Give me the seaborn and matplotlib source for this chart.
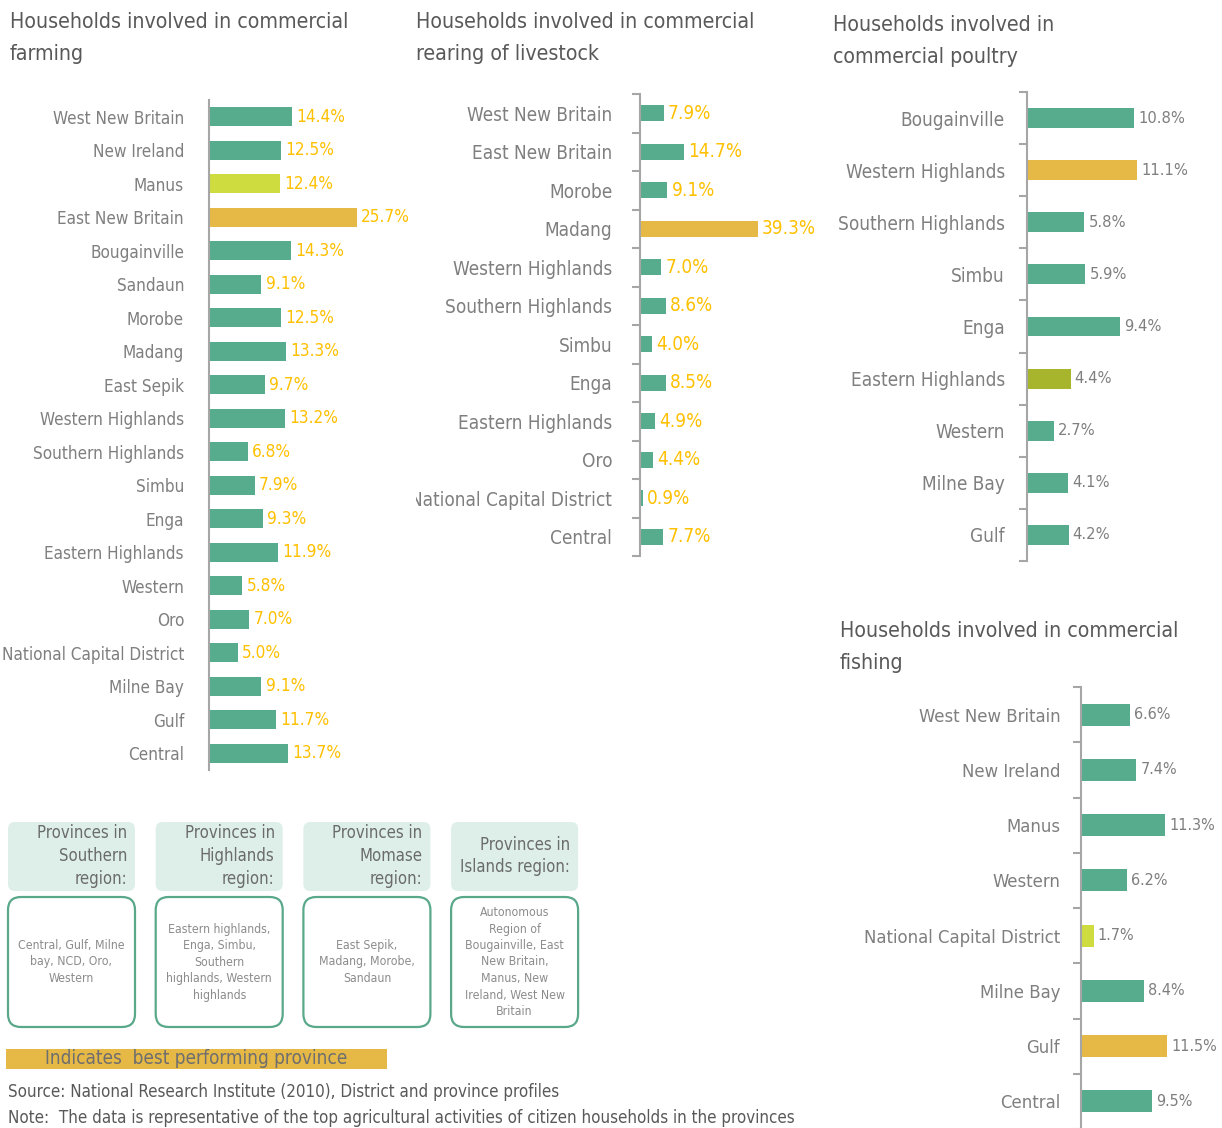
import matplotlib.pyplot as plt
import matplotlib.font_manager as fm
import seaborn as sns
from matplotlib.patches import FancyBboxPatch, Rectangle
from matplotlib.ticker import FixedLocator
from matplotlib.transforms import Bbox

# Data
farm_cats = ["West New Britain", "New Ireland", "Manus", "East New Britain", "Bougainville",
             "Sandaun", "Morobe", "Madang", "East Sepik", "Western Highlands",
             "Southern Highlands", "Simbu", "Enga", "Eastern Highlands", "Western", "Oro",
             "National Capital District", "Milne Bay", "Gulf", "Central"]
farm_vals = [14.4, 12.5, 12.4, 25.7, 14.3, 9.1, 12.5, 13.3, 9.7, 13.2,
             6.8, 7.9, 9.3, 11.9, 5.8, 7.0, 5.0, 9.1, 11.7, 13.7]

stock_cats = ["West New Britain", "East New Britain", "Morobe", "Madang", "Western Highlands",
              "Southern Highlands", "Simbu", "Enga", "Eastern Highlands", "Oro",
              "National Capital District", "Central"]
stock_vals = [7.9, 14.7, 9.1, 39.3, 7.0, 8.6, 4.0, 8.5, 4.9, 4.4, 0.9, 7.7]

poultry_cats = ["Bougainville", "Western Highlands", "Southern Highlands", "Simbu", "Enga",
                "Eastern Highlands", "Western", "Milne Bay", "Gulf"]
poultry_vals = [10.8, 11.1, 5.8, 5.9, 9.4, 4.4, 2.7, 4.1, 4.2]

fish_cats = ["West New Britain", "New Ireland", "Manus", "Western", "National Capital District",
             "Milne Bay", "Gulf", "Central"]
fish_vals = [6.6, 7.4, 11.3, 6.2, 1.7, 8.4, 11.5, 9.5]

region_heads = [["Provinces in", "Southern", "region:"], ["Provinces in", "Highlands", "region:"],
                ["Provinces in", "Momase", "region:"], ["Provinces in", "Islands region:"]]
region_bodies = [["Central, Gulf, Milne", "bay, NCD, Oro,", "Western"],
                 ["Eastern highlands,", "Enga, Simbu,", "Southern", "highlands, Western",
                  "highlands"],
                 ["East Sepik,", "Madang, Morobe,", "Sandaun"],
                 ["Autonomous", "Region of", "Bougainville, East", "New Britain,", "Manus, New",
                  "Ireland, West New", "Britain"]]

TEAL = '#58AC8E'
GOLD = '#E6B947'
LIME = '#CEDC40'
OLIVE = '#A6B52B'
LABEL_GREY = '#7F7F7F'
VAL_YELLOW = '#FFC000'
VAL_GREY = '#7F7F7F'
SPINE = '#A6A6A6'
TITLE = '#595959'

sns.set_style("white")


# pick a condensed / narrow face if one is installed, else a light sans
def pick_font():
    best = None
    for f in fm.fontManager.ttflist:
        narrow = ('Narrow' in f.name or 'Condensed' in f.name
                  or 'condensed' in str(f.stretch))
        if not narrow or f.style != 'normal':
            continue
        w = f.weight if isinstance(f.weight, int) else fm.weight_dict.get(f.weight, 400)
        score = abs(w - 350)
        if best is None or score < best[0]:
            best = (score, f)
    return best[1] if best else None


face = pick_font()
if face is not None:
    plt.rcParams['font.family'] = [face.name, 'DejaVu Sans']
    plt.rcParams['font.stretch'] = face.stretch
    plt.rcParams['font.weight'] = face.weight
else:
    plt.rcParams['font.family'] = ['Roboto', 'DejaVu Sans']
    plt.rcParams['font.weight'] = 'light'

W, H = 1222, 1128
fig = plt.figure(figsize=(W / 100, H / 100), dpi=100)
renderer = fig.canvas.get_renderer()


def fit_size(sample, target_px, base=20):
    # font size that gives the sample string the width it has in the original
    t = fig.text(0, 0, sample, fontsize=base)
    w = t.get_window_extent(renderer).width
    t.remove()
    return base * target_px / w


# background axes in pixel units for titles, boxes and notes
bg = fig.add_axes([0, 0, 1, 1], zorder=-1)
bg.set_xlim(0, W)
bg.set_ylim(H, 0)
bg.axis('off')


def px_axes(x0, y0, x1, y1):
    return fig.add_axes([x0 / W, 1 - y1 / H, (x1 - x0) / W, (y1 - y0) / H])


def colors_for(cats, special):
    return {c: special.get(c, TEAL) for c in cats}


def draw_panel(rect, cats, vals, pal, xmax, bar_w, lab_size, val_size, val_color, ticks, pad):
    ax = px_axes(*rect)
    sns.barplot(x=vals, y=cats, hue=cats, palette=pal, legend=False, width=bar_w,
                saturation=1, errorbar=None, orient='h', linewidth=0, ax=ax)
    ax.set_xlim(0, xmax)
    ax.set_ylim(len(cats) - 0.5, -0.5)
    ax.set_xticks([])
    ax.set_xlabel('')
    ax.set_ylabel('')
    sns.despine(ax=ax, bottom=True)
    ax.spines['left'].set_color(SPINE)
    ax.spines['left'].set_linewidth(1.5)
    ax.tick_params(axis='y', which='major', length=0, pad=pad, labelsize=lab_size,
                   labelcolor=LABEL_GREY)
    if ticks:
        ax.yaxis.set_minor_locator(FixedLocator([i - 0.5 for i in range(len(cats) + 1)]))
        ax.tick_params(axis='y', which='minor', left=True, length=6, width=1.5, color=SPINE)
    for c in ax.containers:
        ax.bar_label(c, fmt='{:.1f}%', padding=3, fontsize=val_size, color=val_color)
    ax.patch.set_alpha(0)
    return ax


# Farming
draw_panel((209, 100, 409, 770), farm_cats, farm_vals,
           colors_for(farm_cats, {"Manus": LIME, "East New Britain": GOLD}),
           34.7, 0.57, fit_size("West New Britain", 131), fit_size("14.4%", 49),
           VAL_YELLOW, False, 18)
# Livestock
ax2 = draw_panel((640, 94, 820, 556), stock_cats, stock_vals,
                 colors_for(stock_cats, {"Madang": GOLD}),
                 60, 0.41, fit_size("Western Highlands", 160), fit_size("14.7%", 54),
                 VAL_YELLOW, True, 20)
# the long label is cut by the panel edge in the original
clip = Bbox.from_extents(416, 0, W, H)
for lab in ax2.get_yticklabels():
    lab.set_clip_box(clip)
    lab.set_clip_on(True)
# Poultry
draw_panel((1027, 92, 1222, 561), poultry_cats, poultry_vals,
           colors_for(poultry_cats, {"Western Highlands": GOLD, "Eastern Highlands": OLIVE}),
           19.7, 0.38, fit_size("Western Highlands", 160), fit_size("10.8%", 47),
           VAL_GREY, True, 16)
# Fishing
draw_panel((1081, 687, 1222, 1129), fish_cats, fish_vals,
           colors_for(fish_cats, {"National Capital District": LIME, "Gulf": GOLD}),
           18.9, 0.40, fit_size("National Capital District", 197), fit_size("11.3%", 46),
           VAL_GREY, True, 15)

# Titles
title_size = fit_size("Households involved in commercial", 339)
titles = [(10, 22, "Households involved in commercial", "farming"),
          (416, 22, "Households involved in commercial", "rearing of livestock"),
          (833, 25, "Households involved in", "commercial poultry"),
          (840, 631, "Households involved in commercial", "fishing")]
for x, y, l1, l2 in titles:
    bg.text(x, y, l1, fontsize=title_size, color=TITLE, va='center', ha='left')
    bg.text(x, y + 32, l2, fontsize=title_size, color=TITLE, va='center', ha='left')

# Region boxes
head_size = fit_size("Provinces in", 90)
body_size = fit_size("Central, Gulf, Milne", 106)
for i, (head, body) in enumerate(zip(region_heads, region_bodies)):
    x0 = 8 + i * 147.7
    bg.add_patch(FancyBboxPatch((x0, 822), 127, 69, boxstyle="round,pad=0,rounding_size=7",
                                facecolor='#DDEFE8', edgecolor='none'))
    bg.add_patch(FancyBboxPatch((x0, 897), 127, 130, boxstyle="round,pad=0,rounding_size=13",
                                facecolor='white', edgecolor='#5AA88A', linewidth=1.6))
    y_top = 856 - 22.5 * (len(head) - 1) / 2
    for k, line in enumerate(head):
        bg.text(x0 + 119, y_top + 22.5 * k, line, fontsize=head_size, color='#6B6B6B',
                ha='right', va='center')
    y_top = 962 - 16.5 * (len(body) - 1) / 2
    for k, line in enumerate(body):
        bg.text(x0 + 63.5, y_top + 16.5 * k, line, fontsize=body_size, color='#8C8C8C',
                ha='center', va='center')

# Legend band and notes
bg.add_patch(Rectangle((6, 1049), 381, 20, facecolor=GOLD, edgecolor='none'))
bg.text(45, 1059, "Indicates  best performing province",
        fontsize=fit_size("Indicates  best performing province", 302), color='#6E6E6E',
        ha='left', va='center')
note_size = fit_size("Source: National Research Institute (2010), District and province profiles",
                     549)
bg.text(8, 1092, "Source: National Research Institute (2010), District and province profiles",
        fontsize=note_size, color=TITLE, ha='left', va='center')
bg.text(8, 1118, "Note:  The data is representative of the top agricultural activities of "
        "citizen households in the provinces", fontsize=note_size, color=TITLE,
        ha='left', va='center')

fig.savefig('out.png', dpi=100)
